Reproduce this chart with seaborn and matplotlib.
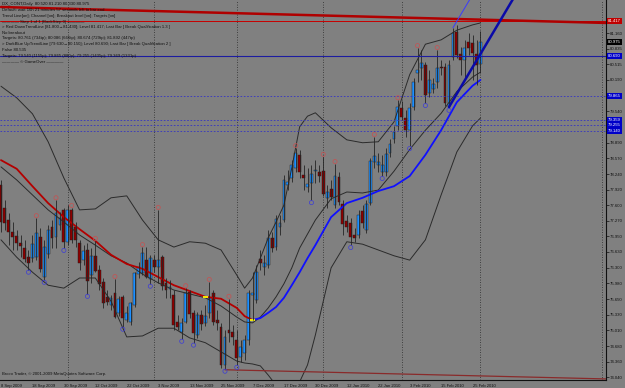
import matplotlib
matplotlib.use("Agg")
import numpy as np
import pandas as pd
import matplotlib.pyplot as plt
import seaborn as sns

# DX_CONT daily bars, 8 Sep 2009 .. 1 Mar 2010 (bar index 0..122)
opens = [78.01, 77.54, 77.29, 77.04, 76.96, 76.81, 76.71, 76.52, 76.50, 76.52,
         76.94, 76.11, 76.59, 77.15, 76.94, 77.19, 77.50, 76.84, 77.50, 77.15,
         76.81, 76.46, 76.67, 76.15, 76.55, 76.26, 76.01, 75.70, 75.53, 75.78,
         75.37, 75.70, 75.22, 75.18, 75.53, 76.17, 76.19, 76.46, 76.07, 76.46,
         76.32, 76.52, 75.99, 75.86, 75.74, 75.18, 74.97, 75.18, 75.80, 75.37,
         74.91, 75.33, 75.16, 75.37, 75.78, 75.22, 75.08, 74.29, 75.01, 74.97,
         74.81, 74.45, 74.54, 74.81, 75.74, 75.63, 76.48, 76.32, 76.36, 76.92,
         76.73, 77.15, 77.29, 78.01, 78.16, 78.37, 78.64, 78.22, 77.97, 78.06,
         78.31, 78.28, 78.31, 77.75, 77.93, 77.60, 78.18, 77.62, 77.27, 77.23,
         76.98, 76.98, 77.48, 77.08, 77.64, 78.49, 78.43, 78.28, 78.28, 78.68,
         78.97, 79.24, 79.61, 79.40, 79.15, 79.63, 80.33, 80.44, 80.50, 79.92,
         80.00, 80.15, 80.46, 80.46, 79.63, 80.67, 81.18, 80.73, 80.60, 80.98,
         80.96, 80.73, 80.52]
highs = [78.12, 77.70, 77.44, 77.25, 77.08, 76.98, 76.88, 76.67, 76.98, 77.33,
         77.13, 76.88, 77.19, 77.29, 77.70, 77.46, 77.54, 77.60, 77.54, 77.25,
         76.88, 76.77, 76.81, 76.71, 76.86, 76.36, 76.09, 75.84, 75.74, 76.07,
         75.72, 75.74, 75.51, 75.59, 76.21, 76.42, 76.73, 76.73, 76.57, 76.57,
         77.50, 76.57, 76.09, 76.05, 75.84, 75.33, 75.26, 75.88, 75.84, 75.43,
         75.39, 75.43, 75.53, 76.01, 75.84, 75.43, 75.16, 75.01, 75.66, 75.12,
         75.01, 74.81, 74.91, 75.84, 76.21, 76.36, 76.67, 76.57, 77.08, 77.04,
         77.40, 77.40, 78.22, 78.33, 78.53, 78.78, 78.74, 78.43, 78.37, 78.43,
         78.53, 78.43, 78.60, 78.01, 78.12, 78.45, 78.28, 77.70, 77.40, 77.33,
         77.13, 77.50, 77.60, 77.70, 78.57, 79.01, 78.68, 78.64, 78.78, 78.97,
         79.24, 79.77, 79.75, 79.57, 79.71, 80.23, 80.85, 80.81, 80.56, 80.40,
         80.23, 80.81, 80.60, 80.54, 80.60, 81.27, 81.33, 80.87, 81.02, 81.16,
         81.12, 81.02, 81.21]
lows = [77.04, 77.08, 76.77, 76.67, 76.67, 76.52, 76.42, 76.26, 76.42, 76.46,
        76.21, 76.05, 76.50, 76.71, 76.71, 77.08, 76.71, 76.77, 76.81, 76.73,
        76.26, 76.36, 75.76, 75.99, 76.21, 75.84, 75.47, 75.53, 75.43, 75.26,
        75.30, 75.08, 75.18, 75.12, 75.49, 76.09, 76.15, 76.09, 75.97, 76.21,
        75.99, 75.84, 75.68, 75.68, 75.01, 75.01, 74.83, 75.16, 75.26, 74.75,
        74.85, 75.01, 75.10, 75.26, 75.12, 75.01, 74.23, 74.21, 74.77, 74.70,
        74.29, 74.35, 74.39, 74.70, 75.22, 75.57, 76.26, 76.15, 76.30, 76.63,
        76.67, 76.98, 77.25, 77.91, 78.08, 78.28, 78.16, 77.91, 77.87, 77.70,
        78.06, 78.08, 77.79, 77.54, 77.70, 77.54, 77.60, 76.98, 77.04, 76.77,
        76.84, 76.92, 77.13, 77.02, 77.60, 78.37, 78.28, 78.20, 78.20, 78.60,
        78.89, 79.15, 79.36, 79.01, 78.82, 79.57, 80.15, 80.19, 79.71, 79.84,
        79.92, 80.02, 80.29, 79.65, 79.61, 80.60, 80.65, 80.29, 80.19, 80.71,
        80.19, 80.09, 80.33]
closes = [77.25, 77.23, 77.04, 76.94, 76.81, 76.75, 76.48, 76.40, 76.79, 77.02,
          76.28, 76.73, 77.08, 76.92, 77.44, 77.33, 76.84, 77.50, 76.88, 76.88,
          76.40, 76.65, 76.03, 76.55, 76.23, 75.97, 75.57, 75.59, 75.68, 75.28,
          75.66, 75.26, 75.37, 75.57, 76.19, 76.32, 76.61, 76.11, 76.50, 76.32,
          76.46, 75.92, 75.84, 75.90, 75.12, 75.08, 75.16, 75.78, 75.35, 74.95,
          75.33, 75.14, 75.30, 75.68, 75.18, 75.16, 74.29, 74.87, 74.95, 74.87,
          74.43, 74.66, 74.81, 75.78, 75.78, 76.21, 76.40, 76.40, 76.92, 76.71,
          77.31, 77.23, 78.12, 78.08, 78.43, 78.68, 78.28, 78.16, 78.04, 78.24,
          78.33, 78.20, 77.83, 77.87, 77.77, 78.20, 77.66, 77.21, 77.15, 76.94,
          76.92, 77.40, 77.23, 77.62, 78.51, 78.62, 78.49, 78.43, 78.66, 78.86,
          79.11, 79.63, 79.42, 79.15, 79.61, 80.15, 80.40, 80.54, 79.88, 80.19,
          80.11, 80.44, 80.44, 79.71, 80.50, 81.16, 80.71, 80.60, 80.85, 80.85,
          80.75, 80.50, 80.975]

date_ticks = list(range(0, 121, 8))
date_labels = ["8 Sep 2009", "18 Sep 2009", "30 Sep 2009", "12 Oct 2009", "22 Oct 2009",
               "3 Nov 2009", "13 Nov 2009", "25 Nov 2009", "7 Dec 2009", "17 Dec 2009",
               "30 Dec 2009", "12 Jan 2010", "22 Jan 2010", "3 Feb 2010", "15 Feb 2010",
               "25 Feb 2010"]
month_starts = [17, 39, 60, 82, 102, 122, 153]

price_ticks = [74.040, 74.360, 74.680, 75.010, 75.330, 75.650, 75.980, 76.300, 76.630,
               76.950, 77.270, 77.600, 77.920, 78.240, 78.570, 78.890, 79.540, 80.190,
               80.515, 80.835, 81.160]

# bollinger bands
band_idx = [0, 4, 8, 12, 16, 20, 24, 28, 32, 36, 40, 44, 48, 52, 56, 60, 62, 64, 66,
            68, 70, 72, 74, 76, 78, 80, 84, 88, 92, 96, 100, 104, 108, 112, 116, 120, 122]
band_upper = [80.06, 79.82, 79.49, 78.91, 78.16, 77.50, 77.52, 77.75, 77.79, 77.29,
              76.88, 76.73, 76.84, 76.81, 76.67, 76.15, 75.88, 76.09, 76.50, 76.92,
              77.25, 77.60, 78.37, 79.22, 79.44, 79.51, 79.20, 78.95, 78.89, 78.91,
              79.32, 80.30, 80.93, 81.02, 81.22, 81.33, 81.37]
band_mid = [78.39, 78.12, 77.81, 77.50, 77.25, 76.98, 76.77, 76.55, 76.40, 76.17,
            75.99, 75.84, 75.76, 75.68, 75.51, 75.28, 75.18, 75.16, 75.28, 75.47,
            75.70, 75.97, 76.30, 76.71, 77.00, 77.29, 77.73, 77.87, 77.85, 77.91,
            78.30, 78.75, 79.15, 79.50, 79.95, 80.25, 80.35]
band_lower = [76.88, 76.52, 76.21, 75.94, 75.88, 76.09, 76.09, 75.61, 74.87, 74.89,
              75.05, 75.05, 74.85, 74.75, 74.56, 74.37, 74.33, 74.31, 74.27, 74.08,
              73.87, 73.67, 73.67, 73.94, 74.29, 74.91, 76.30, 76.84, 76.79, 76.67,
              76.55, 76.46, 76.88, 77.81, 78.70, 79.24, 79.40]

# moving average: red while falling, blue while rising
ma_down_idx = [0, 4, 8, 12, 16, 20, 24, 28, 32, 36, 40, 44, 48, 52, 56, 60, 62, 64]
ma_down = [78.53, 78.35, 77.99, 77.64, 77.35, 77.10, 76.86, 76.57, 76.38, 76.28,
           76.11, 75.94, 75.82, 75.70, 75.66, 75.47, 75.30, 75.22]
ma_up_idx = [64, 66, 68, 70, 72, 74, 76, 78, 80, 84, 88, 92, 96, 100, 104, 108, 112,
             116, 120, 122]
ma_up = [75.22, 75.26, 75.37, 75.49, 75.68, 75.94, 76.21, 76.50, 76.77, 77.35, 77.64,
         77.75, 77.89, 77.99, 78.20, 78.64, 79.15, 79.73, 80.07, 80.19]
ma_turns = [52, 64]

swing_high_idx = [9, 14, 18, 24, 29, 36, 40, 47, 53, 58, 75, 82, 85, 95, 101, 106, 111]
swing_low_idx = [7, 11, 16, 22, 31, 38, 46, 49, 57, 60, 79, 89, 97, 104, 108, 114]

# trend lines and levels
red_trend_idx, red_trend = [0, 154], [81.70, 81.37]
blue_trend_idx, blue_trend = [114, 132], [79.63, 82.10]
channel_idx, channel = [115, 121], [81.27, 82.09]
low_line_idx, low_line = [57, 154], [74.19, 74.00]
red_level = 81.417
blue_level = 80.690
target_levels = [79.865, 79.359, 79.255, 79.140]
bid = 80.975

info_lines = [
    "DX_CONT,Daily  80.520 81.210 80.330 80.975",
    "Default: wait 16h 21 minutes 57 seconds left to bar end",
    "Trend Line[on]; Channel [on]; Breakout level [on]; Targets [on]",
    "\u2014\u2014\u2014\u2014 Step 1 of 1 (BackStep 0) \u2014\u2014\u2014\u2014",
    "> Red DownTrendLine [81.800\u219281.430]; Level 81.417; Last Bar [ Break Qualification 1.3 ]",
    "No breakout",
    "Targets: 80.761 (734tp); 80.086 (666tp); 80.674 (729tp); 81.892 (447tp)",
    "> DarkBlue UpTrendLine [79.630\u219280.150]; Level 80.690; Last Bar [ Break Qualification 2 ]",
    "False 80.535",
    "Targets: 79.540 (1155p); 79.865 (880p); 79.255 (1435p); 79.369 (1331p)",
    "\u2014\u2014\u2014\u2014 \u00a9 GameOver \u2014\u2014\u2014\u2014",
]

BG = "#808080"
FG = "#101010"
UP = "#1e90ff"
DOWN = "#8b0000"

sns.set_style("dark", {"axes.facecolor": BG, "figure.facecolor": BG})
plt.rcParams["font.family"] = ["Liberation Sans", "DejaVu Sans"]

fig = plt.figure(figsize=(6.25, 3.88), dpi=100)
ax = fig.add_axes([0, 8 / 388, 606 / 625, 380 / 388])
ax.set_facecolor(BG)

bars = pd.DataFrame({"open": opens, "high": highs, "low": lows, "close": closes})
bars["i"] = np.arange(len(bars))
up = bars["close"] >= bars["open"]

for m in month_starts:
    ax.axvline(m, color="#2a2a2a", lw=0.6, ls=(0, (1, 2)))

# bands + MA
for vals in (band_upper, band_mid, band_lower):
    sns.lineplot(x=band_idx, y=vals, ax=ax, color="#2b2b2b", lw=0.7)
sns.lineplot(x=ma_down_idx, y=ma_down, ax=ax, color="#b40000", lw=1.3)
sns.lineplot(x=ma_up_idx, y=ma_up, ax=ax, color="#1010ff", lw=1.3)
for t in ma_turns:
    yv = np.interp(t, ma_down_idx, ma_down)
    ax.plot([t - 0.6, t + 0.6], [yv, yv], color="#ffff00", lw=1.3, solid_capstyle="butt")

# candles
ax.vlines(bars["i"], bars["low"], bars["high"], color="#252525", lw=0.6)
body_lo = bars[["open", "close"]].min(axis=1)
body_h = (bars["close"] - bars["open"]).abs().clip(lower=0.015)
ax.bar(bars["i"], body_h, bottom=body_lo, width=0.72,
       color=np.where(up, UP, DOWN), edgecolor="#1a1a1a", lw=0.3)

# swing markers
ax.scatter(swing_high_idx, bars["high"].iloc[swing_high_idx] + 0.05, s=9,
           facecolors="none", edgecolors="#c85050", lw=0.5, zorder=4)
ax.scatter(swing_low_idx, bars["low"].iloc[swing_low_idx] - 0.05, s=9,
           facecolors="none", edgecolors="#3c3cd8", lw=0.5, zorder=4)

# levels and trend lines
ax.axhline(red_level, color="#c80000", lw=0.7)
ax.axhline(blue_level, color="#1c1ca0", lw=0.8)
for v in target_levels:
    ax.axhline(v, color="#3434c4", lw=0.6, ls=(0, (2, 2)))
ax.plot(red_trend_idx, red_trend, color="#b00000", lw=1.8)
ax.plot(blue_trend_idx, blue_trend, color="#0a0aa8", lw=1.8)
ax.plot(channel_idx, channel, color="#3a3aff", lw=0.7)
ax.plot(low_line_idx, low_line, color="#8a2a2a", lw=0.9)

ax.set_xlim(-0.25, 153.95)
ax.set_ylim(73.978, 81.845)

ax.set_xticks(date_ticks)
ax.set_xticklabels(date_labels, ha="left")
ax.tick_params(axis="x", length=2, pad=1, labelsize=3.0, colors=FG, width=0.5)
ax.yaxis.tick_right()
ax.set_yticks(price_ticks)
ax.set_yticklabels([f"{v:.3f}" for v in price_ticks])
ax.tick_params(axis="y", length=2, pad=1, labelsize=3.1, colors=FG, width=0.5)
for side in ("left", "top"):
    ax.spines[side].set_visible(False)
for side in ("right", "bottom"):
    ax.spines[side].set_color(FG)
    ax.spines[side].set_linewidth(0.8)
ax.grid(False)

# price boxes on the scale
ytr = ax.get_yaxis_transform()
boxes = [(red_level, "#c00000"), (bid, "#000000"), (blue_level, "#0000c8")] + \
        [(v, "#0000c8") for v in target_levels]
for v, c in boxes:
    ax.text(1.003, v, f"{v:.3f}", transform=ytr, ha="left", va="center", fontsize=3.1,
            color="white", bbox=dict(boxstyle="square,pad=0.25", fc=c, ec="none"),
            clip_on=False, zorder=6)

# info text
line_y = [4, 10, 16, 21.5, 27, 33, 38.5, 44, 50, 56.5, 62]
for txt, yy in zip(info_lines, line_y):
    fig.text(2 / 625, 1 - yy / 388, txt, fontsize=3.1, color=FG, va="center", ha="left")
fig.text(2 / 625, 1 - 374 / 388, "Broco Trader, \u00a9 2001-2009 MetaQuotes Software Corp.",
         fontsize=3.1, color=FG, va="center", ha="left")

fig.savefig("out.png", dpi=100, facecolor=BG)
